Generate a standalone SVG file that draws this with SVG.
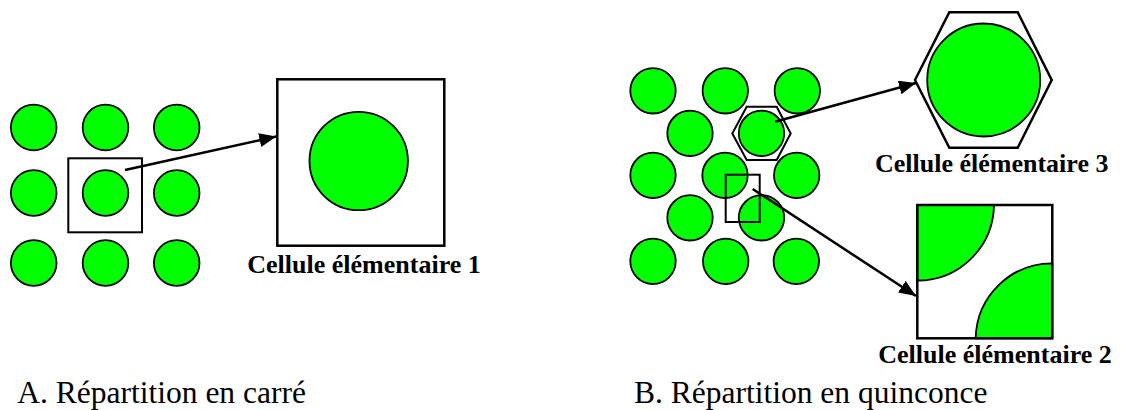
<svg xmlns="http://www.w3.org/2000/svg" width="1121" height="410" viewBox="0 0 1121 410">
<defs>
<style>
.c{fill:#00ff00;stroke:#000;stroke-width:1.8}
.box{fill:none;stroke:#000;stroke-width:2.5}
.thin{fill:none;stroke:#000;stroke-width:2}
.ln{fill:none;stroke:#000;stroke-width:2.5}
.lbl{font-family:'Liberation Serif','DejaVu Serif','Times New Roman',serif;font-weight:bold;font-size:26px;fill:#000}
.cap{font-family:'Liberation Serif','DejaVu Serif','Times New Roman',serif;font-size:31.5px;fill:#000}
</style>
<marker id="ah" viewBox="0 0 17 14" refX="17" refY="7" markerWidth="17" markerHeight="14" markerUnits="userSpaceOnUse" orient="auto">
<path d="M0,0 L17,7 L0,14 Z" fill="#000"/>
</marker>
</defs>
<rect width="1121" height="410" fill="#fff"/>

<g id="grid-carre">
<circle class="c" cx="33.7" cy="127.5" r="22.8"/>
<circle class="c" cx="105.5" cy="127.5" r="22.8"/>
<circle class="c" cx="176.7" cy="127.5" r="22.8"/>
<circle class="c" cx="33.7" cy="193" r="22.8"/>
<circle class="c" cx="105.5" cy="193" r="22.8"/>
<circle class="c" cx="176.7" cy="193" r="22.8"/>
<circle class="c" cx="33.7" cy="263" r="22.8"/>
<circle class="c" cx="105.5" cy="263" r="22.8"/>
<circle class="c" cx="176.7" cy="263" r="22.8"/>
<rect class="thin" x="68.3" y="158.3" width="73.7" height="74"/>
</g>

<g id="cellule-1">
<rect class="box" x="277.3" y="79.3" width="167" height="166.4"/>
<circle class="c" cx="358.7" cy="161" r="49.2"/>
<text class="lbl" x="247.3" y="273" font-family="Liberation Serif, serif">Cellule élémentaire 1</text>
</g>

<g id="grid-quinconce">
<circle class="c" cx="653" cy="90.8" r="22.7"/>
<circle class="c" cx="725.3" cy="90.8" r="22.7"/>
<circle class="c" cx="797.3" cy="90.8" r="22.7"/>
<circle class="c" cx="690" cy="133.3" r="22.7"/>
<circle class="c" cx="761.5" cy="133.3" r="22.7"/>
<circle class="c" cx="653" cy="175.3" r="22.7"/>
<circle class="c" cx="725" cy="175.3" r="22.7"/>
<circle class="c" cx="796.7" cy="175.3" r="22.7"/>
<circle class="c" cx="690" cy="217.8" r="22.7"/>
<circle class="c" cx="761.5" cy="217.8" r="22.7"/>
<circle class="c" cx="653" cy="261.3" r="22.7"/>
<circle class="c" cx="725.7" cy="261.3" r="22.7"/>
<circle class="c" cx="796.3" cy="261.3" r="22.7"/>
<polygon class="thin" points="732.3,133.5 746.7,106.7 776.7,106.7 790.7,133.5 776.7,160 746.7,160"/>
<rect class="thin" x="725.7" y="174.7" width="34" height="47.3"/>
</g>

<g id="cellule-3">
<polygon class="box" points="915,80 949.3,12.3 1017.7,12.3 1051.7,80 1017.7,147.7 949.3,147.7"/>
<circle class="c" cx="983.7" cy="80" r="56.5"/>
<text class="lbl" x="875" y="171.5" font-family="Liberation Serif, serif">Cellule élémentaire 3</text>
</g>

<g id="cellule-2">
<path class="c" d="M917.3,205 L994,205 A76.5,76.5 0 0 1 917.3,280.5 Z"/>
<path class="c" d="M1052.3,338.3 L1052.3,263.3 A76.5,76.5 0 0 0 975.7,338.3 Z"/>
<rect class="box" x="917.3" y="205" width="135" height="133.3"/>
<text class="lbl" x="878.3" y="363.3" font-family="Liberation Serif, serif">Cellule élémentaire 2</text>
</g>

<g id="connectors">
<line class="ln" x1="125" y1="170" x2="276.3" y2="136.5" marker-end="url(#ah)"/>
<line class="ln" x1="775" y1="121.7" x2="916" y2="83" marker-end="url(#ah)"/>
<line class="ln" x1="752.7" y1="189" x2="916" y2="296" marker-end="url(#ah)"/>
</g>

<g id="captions">
<text class="cap" x="17.3" y="403" font-family="Liberation Serif, serif">A. Répartition en carré</text>
<text class="cap" x="634" y="403" font-family="Liberation Serif, serif">B. Répartition en quinconce</text>
</g>
</svg>
